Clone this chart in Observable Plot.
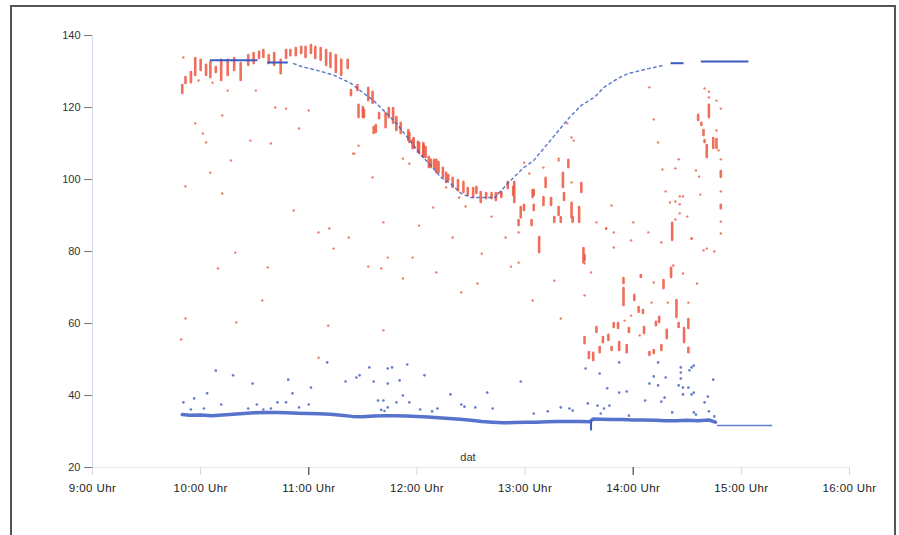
<!DOCTYPE html>
<html>
<head>
<meta charset="utf-8">
<script src="https://cdn.jsdelivr.net/npm/d3@7"></script>
<script src="https://cdn.jsdelivr.net/npm/@observablehq/plot@0.6"></script>
<style>
  html, body { margin: 0; padding: 0; background: #fff; overflow: hidden; }
  #wrap { position: relative; width: 899px; height: 535px; }
  #border { position: absolute; left: 10px; top: 5px; width: 886px; height: 540px; border: 2px solid #555; box-sizing: border-box; pointer-events: none; }
  #chart { position: absolute; left: 0; top: 0; }
  svg { font-family: "Liberation Sans", Arial, sans-serif; }
</style>
</head>
<body>
<div id="wrap"><div id="chart"></div><div id="border"></div></div>
<script>
// ---- data (time in decimal hours, value) ----
const hourTicks = [9, 10, 11, 12, 13, 14, 15, 16];
const valueTicks = [20, 40, 60, 80, 100, 120, 140];

// blue set-point curve: held segments
const holdStart = [10.09, 10.62, 14.35, 14.63];
const holdEnd   = [10.53, 10.81, 14.47, 15.07];
const holdValue = [133.1, 132.5, 132.3, 132.8];

// blue set-point curve: dotted part
const targetTime  = [10.86, 10.93, 11.08, 11.23, 11.39, 11.51, 11.6, 11.69, 11.81, 11.92, 12.04, 12.13, 12.22, 12.31, 12.41, 12.5, 12.72, 12.84, 12.98, 13.08, 13.18, 13.31, 13.41, 13.52, 13.64, 13.73, 13.86, 13.95, 14.14, 14.28];
const targetValue = [132.2, 131.4, 130.3, 129.0, 126.7, 123.9, 121.9, 119.2, 115.6, 111.4, 106.7, 103.9, 100.6, 98.9, 96.1, 95.0, 95.0, 98.9, 103.1, 105.3, 108.9, 113.6, 117.2, 120.6, 122.8, 125.6, 128.1, 129.4, 130.8, 131.7];

// blue low band
const bandTime  = [9.83, 9.9, 10.0, 10.1, 10.2, 10.3, 10.4, 10.5, 10.6, 10.7, 10.8, 10.9, 11.0, 11.1, 11.2, 11.3, 11.4, 11.5, 11.6, 11.7, 11.8, 11.9, 12.0, 12.1, 12.2, 12.3, 12.4, 12.5, 12.6, 12.7, 12.8, 12.9, 13.0, 13.1, 13.2, 13.3, 13.4, 13.5, 13.6, 13.63, 13.7, 13.8, 13.9, 14.0, 14.1, 14.2, 14.3, 14.4, 14.5, 14.6, 14.7, 14.76];
const bandValue = [34.7, 34.5, 34.6, 34.4, 34.6, 34.8, 35.0, 35.2, 35.3, 35.3, 35.2, 35.1, 35.0, 34.9, 34.8, 34.5, 34.2, 34.1, 34.3, 34.4, 34.4, 34.3, 34.2, 34.0, 33.8, 33.6, 33.4, 33.1, 32.8, 32.6, 32.4, 32.5, 32.6, 32.6, 32.7, 32.8, 32.8, 32.8, 32.7, 33.5, 33.4, 33.3, 33.3, 33.2, 33.2, 33.1, 33.0, 33.0, 33.1, 33.0, 33.2, 32.6];
const tailTime  = [14.78, 15.28];
const tailValue = [31.7, 31.7];
const spike = [[13.61, 33.0, 30.2]];

// blue scattered readings
const blueOutliers = [
  [9.84,38.1],[9.94,39.2],[10.06,40.6],[10.14,46.9],[10.3,45.6],[10.19,37.5],[9.91,36.1],[10.03,36.4],
  [10.48,43.3],[10.44,36.4],[10.52,37.5],[10.58,36.1],[10.65,36.4],[10.71,38.1],[10.79,38.1],[10.81,44.4],
  [10.85,40.6],[10.91,36.7],[11.0,37.5],[11.02,42.2],[11.17,49.2],[11.34,43.9],[11.44,45.0],[11.47,45.6],
  [11.56,47.8],[11.6,43.9],[11.73,47.5],[11.77,47.8],[11.73,43.3],[11.84,44.2],[11.91,48.6],[11.64,38.6],
  [11.69,38.6],[11.81,38.1],[11.87,40.0],[11.93,38.1],[11.73,36.7],[11.67,36.0],[11.7,35.7],[12.03,36.1],
  [12.07,45.6],[12.14,35.6],[12.19,36.4],[12.31,40.3],[12.41,37.5],[12.44,36.9],[12.54,36.7],[12.65,40.8],
  [12.7,36.4],[12.96,43.9],[13.08,35.0],[13.21,35.6],[13.33,36.7],[13.41,36.4],[13.44,35.8],[13.58,37.8],
  [13.67,37.2],[13.69,46.1],[13.7,35.0],[13.73,36.4],[13.76,42.0],[13.78,37.2],[13.87,40.8],[13.94,41.1],
  [13.87,49.2],[13.96,34.4],[14.11,38.6],[14.15,43.3],[14.19,45.3],[14.23,49.2],[14.23,42.8],[14.26,38.3],
  [14.29,39.4],[14.3,45.0],[14.36,35.3],[14.42,42.8],[14.44,47.8],[14.44,46.4],[14.44,44.7],[14.46,42.2],
  [14.51,42.2],[14.46,40.3],[14.54,40.3],[14.52,47.0],[14.56,48.3],[14.54,47.8],[14.56,40.8],[14.56,35.3],
  [14.58,34.7],[14.66,38.1],[14.69,39.7],[14.74,44.4],[14.7,35.6],[14.75,34.2],[13.56,47.5]
];

// red readings: [time, high, low]
const redDashes = [
  [9.83,126.1,123.9],[9.86,128.3,126.7],[9.91,129.7,126.9],[9.95,133.6,128.9],[10.0,133.1,130.3],[10.05,131.7,128.9],
  [10.09,132.5,128.3],[10.14,131.1,129.7],[10.19,133.1,127.5],[10.25,133.1,128.9],[10.31,133.6,130.3],[10.37,132.2,127.5],
  [10.44,134.4,131.7],[10.49,135.0,132.2],[10.54,135.3,133.6],[10.58,135.8,133.9],[10.63,134.4,132.2],[10.68,135.0,131.7],
  [10.74,133.1,129.4],[10.79,135.8,133.6],[10.83,135.8,134.4],[10.88,136.4,134.4],[10.93,136.7,135.0],[10.97,136.7,133.9],
  [11.02,137.2,135.0],[11.06,136.7,133.6],[11.11,136.4,133.1],[11.16,135.8,131.7],[11.2,135.0,131.1],[11.25,134.4,129.7],
  [11.3,133.1,128.9],[11.36,133.1,130.8],[11.39,124.7,123.3],[11.45,126.1,124.7],[11.46,120.6,117.2],[11.5,120.0,117.2],
  [11.51,119.2,117.2],[11.55,125.3,121.9],[11.59,124.2,121.1],[11.6,114.4,112.8],[11.62,115.0,113.1],[11.65,118.3,116.9],
  [11.71,118.3,114.4],[11.74,119.7,117.2],[11.78,119.7,115.6],[11.81,117.2,113.6],[11.85,115.6,112.8],[11.92,113.6,110.8],
  [11.93,112.8,110.3],[11.96,110.8,108.6],[11.97,111.4,108.6],[12.01,110.3,107.5],[12.02,110.0,107.2],[12.06,110.0,106.1],
  [12.06,109.4,106.7],[12.08,108.9,106.1],[12.11,106.1,103.3],[12.13,105.3,103.3],[12.16,105.3,103.1],[12.18,105.3,101.9],
  [12.2,104.7,101.9],[12.24,103.1,100.6],[12.27,101.7,99.2],[12.29,101.1,99.7],[12.33,100.3,97.8],[12.38,99.7,96.9],
  [12.43,99.2,96.4],[12.47,97.5,95.6],[12.52,97.5,95.0],[12.55,97.8,96.1],[12.59,96.4,93.6],[12.64,96.1,94.7],
  [12.69,96.1,94.7],[12.73,96.1,94.2],[12.78,96.4,95.0],[12.84,99.2,97.5],[12.89,97.8,95.6],[12.9,99.2,93.6],
  [12.99,92.8,91.4],[13.07,96.9,95.0],[13.08,92.8,91.4],[12.96,92.2,89.4],[13.06,88.6,87.2],[12.94,88.6,87.2],
  [13.08,96.9,95.6],[13.13,83.9,79.7],[13.17,95.0,92.8],[13.19,100.3,97.8],[13.24,94.7,92.8],[13.27,89.4,88.1],
  [13.31,92.2,90.0],[13.33,89.4,88.1],[13.35,101.7,97.8],[13.36,96.1,94.2],[13.4,105.3,103.3],[13.43,93.4,89.4],
  [13.44,89.4,88.1],[13.5,92.2,88.1],[13.52,98.9,96.4],[13.54,80.8,76.9],
  [13.55,78.9,77.5],[13.55,56.1,54.4],[13.59,51.9,50.3],[13.63,51.7,49.7],[13.66,58.9,57.5],[13.69,53.3,51.9],
  [13.72,56.1,54.7],[13.77,56.7,55.3],[13.8,53.3,52.5],[13.82,60.0,58.9],[13.86,60.0,58.6],[13.87,54.7,52.5],
  [13.91,72.5,71.1],[13.91,69.7,65.0],[13.94,53.9,51.9],[13.96,58.6,57.5],[14.01,67.8,66.4],[14.05,64.4,63.1],
  [14.09,63.6,62.8],[14.07,73.3,72.8],[14.1,58.9,57.2],[14.15,51.9,51.1],[14.19,52.5,51.7],[14.21,60.3,59.4],
  [14.24,61.7,60.3],[14.26,53.9,52.5],[14.28,71.9,69.7],[14.31,58.1,55.8],[14.35,75.3,72.8],[14.4,66.4,61.7],
  [14.42,60.0,58.9],[14.47,58.6,54.7],[14.51,61.1,58.6],[14.51,53.1,51.9],
  [14.36,87.8,83.1],[14.7,120.6,117.2],[14.6,117.8,116.4],[14.63,115.6,115.0],[14.65,113.6,112.2],[14.66,110.8,110.3],
  [14.68,109.4,106.1],[14.74,111.4,108.6],[14.77,111.1,108.6],[14.81,102.2,100.6],[14.81,92.8,91.9]
];

// red readings: isolated points [time, value]
const redSingles = [
  [9.84,133.9],[9.98,127.5],[10.11,126.9],[10.25,124.7],[10.51,124.7],[9.86,98.1],[9.95,115.6],[10.02,112.8],
  [10.05,110.3],[10.09,101.9],[10.2,96.1],[10.2,117.8],[10.28,105.3],[10.46,110.8],[10.65,110.0],[10.69,120.0],
  [10.79,119.7],[11.0,119.2],[10.91,114.2],[10.86,91.4],[11.09,85.3],[11.19,86.4],[11.23,80.8],[11.37,83.9],
  [11.42,107.2],[11.46,109.4],[11.41,107.2],[11.59,100.6],[11.69,88.1],[11.73,78.3],[11.55,75.8],[11.96,78.3],
  [12.02,87.2],[12.15,92.2],[10.32,79.7],[10.16,75.3],[10.62,75.6],[9.86,61.4],[9.82,55.6],[11.87,105.8],
  [11.93,104.4],[12.27,97.8],[12.39,95.0],[12.45,92.5],[12.99,104.7],[13.04,101.7],[13.17,103.3],[13.31,105.8],
  [13.43,99.2],[13.66,88.1],[12.82,83.9],[12.94,85.3],[12.87,75.8],[12.94,76.9],[13.75,86.4],[12.75,96.1],
  [12.78,96.1],[13.39,115.6],[13.45,110.8],[13.43,111.7],[14.0,88.1],[13.8,92.8],[13.82,85.3],[13.75,86.4],
  [13.98,83.1],[14.14,85.3],[14.54,83.6],[13.82,81.1],[12.6,79.4],[12.33,83.9],[12.69,89.7],[13.31,105.3],
  [13.61,74.2],[13.55,67.8],[13.55,76.7],[13.92,60.8],[13.98,62.2],[14.06,56.7],[14.17,65.8],[14.19,71.4],
  [14.32,65.8],[14.37,76.1],[14.46,73.9],[14.51,65.8],[14.59,71.1],[14.65,80.3],
  [14.15,125.6],[14.19,116.7],[14.23,110.3],[14.42,105.6],[14.39,103.1],[14.27,102.8],[14.3,96.7],[14.34,93.6],
  [14.39,93.9],[14.43,95.3],[14.46,95.3],[14.43,93.1],[14.43,90.6],[14.5,89.7],[14.39,88.9],[14.26,82.5],
  [14.54,83.6],[14.58,102.5],[14.61,100.8],[14.62,95.8],[14.66,125.3],[14.7,124.4],[14.7,122.8],[14.79,108.1],
  [14.77,113.6],[14.77,121.9],[14.81,119.7],[14.81,105.6],[14.81,96.7],[14.81,88.3],[14.81,85.0],[14.75,80.0],
  [14.68,80.8],[10.33,60.3],[10.57,66.4],[11.09,50.5],[11.18,59.4],[11.67,75.3],[11.69,58.1],[11.87,72.5],
  [12.18,74.2],[12.41,68.6],[12.56,71.1],[13.07,66.4],[13.27,71.9],[13.33,61.4]
];

// ---- chart ----
const red = "#ec5640";
const blue = "#3a5bc2";
const holds = holdStart.map((s, i) => ({s, e: holdEnd[i], v: holdValue[i]}));
const target = targetTime.map((t, i) => ({t, v: targetValue[i]}));
const band = bandTime.map((t, i) => ({t, v: bandValue[i]}));
const tail = tailTime.map((t, i) => ({t, v: tailValue[i]}));

const chart = Plot.plot({
  width: 899,
  height: 535,
  marginLeft: 92,
  marginRight: 50,
  marginTop: 35,
  marginBottom: 68,
  style: {fontFamily: "Liberation Sans, Arial, sans-serif", background: "transparent"},
  x: {domain: [9, 16], label: null},
  y: {domain: [20, 140], label: null},
  marks: [
    Plot.ruleX([9], {stroke: "#cfdbe6", strokeWidth: 1}),
    Plot.ruleY([20], {stroke: "#e6e9ec", strokeWidth: 1}),
    Plot.axisY({ticks: valueTicks, tickSize: 8, tickPadding: 4, fontSize: 11, stroke: "#777", color: "#333", label: null}),
    Plot.axisX({ticks: hourTicks, tickSize: 8, tickPadding: 8, fontSize: 11.5, stroke: "#d6d6d6", color: "#222",
      tickFormat: d => `${d}:00 Uhr`, label: null}),
    Plot.axisX({ticks: [11, 14], tickSize: 8, tickFormat: () => "", stroke: "#333", label: null}),
    Plot.text(["dat"], {frameAnchor: "bottom", dx: -3, dy: -7, fontSize: 11, fill: "#333"}),
    // red readings
    Plot.ruleX(redDashes, {x: d => d[0], y1: d => d[1], y2: d => d[2], stroke: red, strokeWidth: 2.6, strokeLinecap: "round", strokeOpacity: 0.85}),
    Plot.dot(redSingles, {x: d => d[0], y: d => d[1], r: 1.2, fill: red, fillOpacity: 0.8, stroke: "none"}),
    // blue set-point
    Plot.line(target, {x: "t", y: "v", stroke: blue, strokeWidth: 1.5, strokeDasharray: "2.5,3.5", strokeOpacity: 0.8}),
    Plot.ruleY(holds, {x1: "s", x2: "e", y: "v", stroke: blue, strokeWidth: 2}),
    // blue low band
    Plot.line(band, {x: "t", y: "v", stroke: blue, strokeWidth: 3.5, strokeOpacity: 0.85, curve: "linear"}),
    Plot.line(tail, {x: "t", y: "v", stroke: blue, strokeWidth: 1.5, strokeOpacity: 0.8}),
    Plot.ruleX(spike, {x: d => d[0], y1: d => d[1], y2: d => d[2], stroke: blue, strokeWidth: 2}),
    Plot.dot(blueOutliers, {x: d => d[0], y: d => d[1], r: 1.3, fill: blue, fillOpacity: 0.8, stroke: "none"})
  ]
});
chart.querySelectorAll('g[aria-label="x-axis tick label"] text').forEach(t => t.setAttribute("letter-spacing", "0.4"));
document.getElementById("chart").appendChild(chart);
</script>
</body>
</html>
